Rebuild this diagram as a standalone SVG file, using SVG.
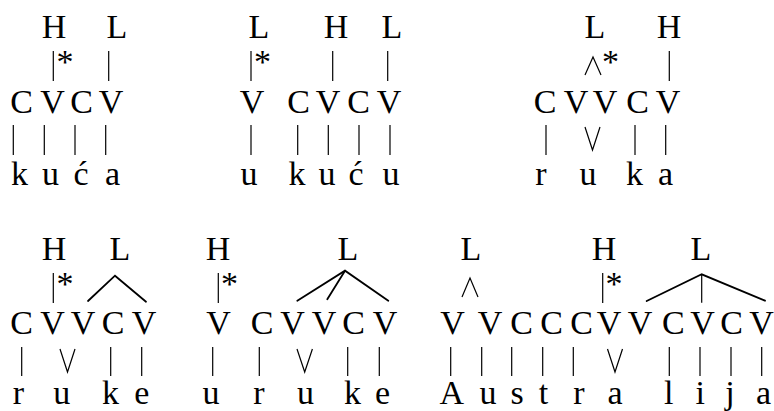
<svg xmlns="http://www.w3.org/2000/svg" width="774" height="411" viewBox="0 0 774 411">
<style>
text{font-family:"Liberation Serif","Times New Roman",Times,serif;font-size:34px;fill:#000;text-anchor:middle}
.a{stroke:#000;stroke-width:1.2;fill:none}
.br{stroke:#000;stroke-width:1.8;fill:none;stroke-linecap:round}
</style>
<rect width="774" height="411" fill="#fff"/>
<g id="w-kuca">
<text x="54" y="37.5">H</text><text x="117" y="37.5">L</text>
<line class="a" x1="53.3" y1="51" x2="53.3" y2="81"/><text x="65" y="73">*</text>
<line class="a" x1="108.7" y1="51" x2="108.7" y2="81"/>
<text x="21.5" y="112.5">C</text><text x="52.5" y="112.5">V</text><text x="81.5" y="112.5">C</text><text x="111" y="112.5">V</text>
<line class="a" x1="13.3" y1="125" x2="13.3" y2="155"/><line class="a" x1="44.3" y1="125" x2="44.3" y2="155"/><line class="a" x1="75" y1="125" x2="75" y2="155"/><line class="a" x1="105.7" y1="125" x2="105.7" y2="155"/>
<text x="19.5" y="184.5">k</text><text x="50.5" y="184.5">u</text><text x="81" y="184.5">ć</text><text x="112.5" y="184.5">a</text>
</g>
<g id="w-ukuci">
<text x="259" y="37.5">L</text><text x="336" y="37.5">H</text><text x="392" y="37.5">L</text>
<line class="a" x1="251" y1="51" x2="251" y2="81"/><text x="262.5" y="73">*</text>
<line class="a" x1="332.7" y1="51" x2="332.7" y2="81"/><line class="a" x1="387.7" y1="51" x2="387.7" y2="81"/>
<text x="252" y="112.5">V</text><text x="298.5" y="112.5">C</text><text x="328" y="112.5">V</text><text x="358.5" y="112.5">C</text><text x="389" y="112.5">V</text>
<line class="a" x1="251" y1="125" x2="251" y2="155"/><line class="a" x1="297.7" y1="125" x2="297.7" y2="155"/><line class="a" x1="328.3" y1="125" x2="328.3" y2="155"/><line class="a" x1="359" y1="125" x2="359" y2="155"/><line class="a" x1="390" y1="125" x2="390" y2="155"/>
<text x="249" y="184.5">u</text><text x="297" y="184.5">k</text><text x="327" y="184.5">u</text><text x="356" y="184.5">ć</text><text x="391" y="184.5">u</text>
</g>
<g id="w-ruka">
<text x="595" y="37.5">L</text><text x="669" y="37.5">H</text>
<polyline class="a" points="585,75 593,57 601,75"/><text x="610.5" y="73">*</text>
<line class="a" x1="669.3" y1="51" x2="669.3" y2="81"/>
<text x="545" y="112.5">C</text><text x="576" y="112.5">V</text><text x="605" y="112.5">V</text><text x="637.5" y="112.5">C</text><text x="668" y="112.5">V</text>
<line class="a" x1="546" y1="125" x2="546" y2="155"/><polyline class="a" points="585,127 592.5,150 600,127"/><line class="a" x1="635" y1="125" x2="635" y2="155"/><line class="a" x1="665.7" y1="125" x2="665.7" y2="155"/>
<text x="541" y="184.5">r</text><text x="588" y="184.5">u</text><text x="634.5" y="184.5">k</text><text x="665.5" y="184.5">a</text>
</g>
<g id="w-ruke">
<text x="54" y="259.5">H</text><text x="120" y="259.5">L</text>
<line class="a" x1="53.3" y1="273" x2="53.3" y2="303"/><text x="65" y="295">*</text>
<text x="21.5" y="333.5">C</text><text x="52.5" y="333.5">V</text><text x="83" y="333.5">V</text><text x="113" y="333.5">C</text><text x="144" y="333.5">V</text>
<line class="a" x1="21.7" y1="347" x2="21.7" y2="376"/><polyline class="a" points="60,349 67.5,372 75,349"/><line class="a" x1="110.7" y1="347" x2="110.7" y2="376"/><line class="a" x1="141.7" y1="347" x2="141.7" y2="376"/>
<text x="18.5" y="403.5">r</text><text x="61.7" y="403.5">u</text><text x="110.5" y="403.5">k</text><text x="141.7" y="403.5">e</text>
</g>
<g id="w-uruke">
<text x="218" y="259.5">H</text><text x="348" y="259.5">L</text>
<line class="a" x1="218.3" y1="273" x2="218.3" y2="303"/><text x="229.5" y="295">*</text>
<text x="218.5" y="333.5">V</text><text x="262" y="333.5">C</text><text x="292.5" y="333.5">V</text><text x="324" y="333.5">V</text><text x="353.7" y="333.5">C</text><text x="385" y="333.5">V</text>
<line class="a" x1="212.7" y1="347" x2="212.7" y2="376"/><line class="a" x1="259.3" y1="347" x2="259.3" y2="376"/><polyline class="a" points="297,349 304.7,372 312.4,349"/><line class="a" x1="347.7" y1="347" x2="347.7" y2="376"/><line class="a" x1="379.3" y1="347" x2="379.3" y2="376"/>
<text x="211" y="403.5">u</text><text x="259" y="403.5">r</text><text x="305.5" y="403.5">u</text><text x="352.5" y="403.5">k</text><text x="382.5" y="403.5">e</text>
</g>
<g id="w-australija">
<text x="471" y="259.5">L</text><text x="604" y="259.5">H</text><text x="701" y="259.5">L</text>
<polyline class="a" points="462,297 470,278 478,297"/>
<line class="a" x1="602.7" y1="273" x2="602.7" y2="303"/><text x="614" y="295">*</text>
<text x="452.5" y="333.5">V</text><text x="490" y="333.5">V</text><text x="521.7" y="333.5">C</text><text x="551.7" y="333.5">C</text><text x="581.7" y="333.5">C</text><text x="609" y="333.5">V</text><text x="640" y="333.5">V</text><text x="673.3" y="333.5">C</text><text x="702.5" y="333.5">V</text><text x="731.7" y="333.5">C</text><text x="761.5" y="333.5">V</text>
<line class="a" x1="450.7" y1="347" x2="450.7" y2="376"/><line class="a" x1="481.7" y1="347" x2="481.7" y2="376"/><line class="a" x1="511.7" y1="347" x2="511.7" y2="376"/><line class="a" x1="542.7" y1="347" x2="542.7" y2="376"/><line class="a" x1="573.3" y1="347" x2="573.3" y2="376"/><polyline class="a" points="607.5,349 615,372 622.5,349"/><line class="a" x1="669.3" y1="347" x2="669.3" y2="376"/><line class="a" x1="700" y1="347" x2="700" y2="376"/><line class="a" x1="731" y1="347" x2="731" y2="376"/><line class="a" x1="761.7" y1="347" x2="761.7" y2="376"/>
<text x="451.7" y="403.5">A</text><text x="488" y="403.5">u</text><text x="517" y="403.5">s</text><text x="543.5" y="403.5">t</text><text x="579" y="403.5">r</text><text x="615" y="403.5">a</text><text x="668.8" y="403.5">l</text><text x="700.3" y="403.5">i</text><text x="730" y="403.5">j</text><text x="763.5" y="403.5">a</text>
</g>
<g id="connectors">
<polyline class="br" points="88,301 115,275.7 146,301.7"/>
<polyline class="br" points="297.3,300.7 345,270.7 388.3,300.7"/>
<line class="br" x1="345" y1="270.7" x2="327.3" y2="299.3"/>
<polyline class="br" points="646.7,301 701.7,274.3 765,300.7"/>
<line class="a" x1="701.7" y1="274.3" x2="701.7" y2="302.7"/>
</g>
</svg>
